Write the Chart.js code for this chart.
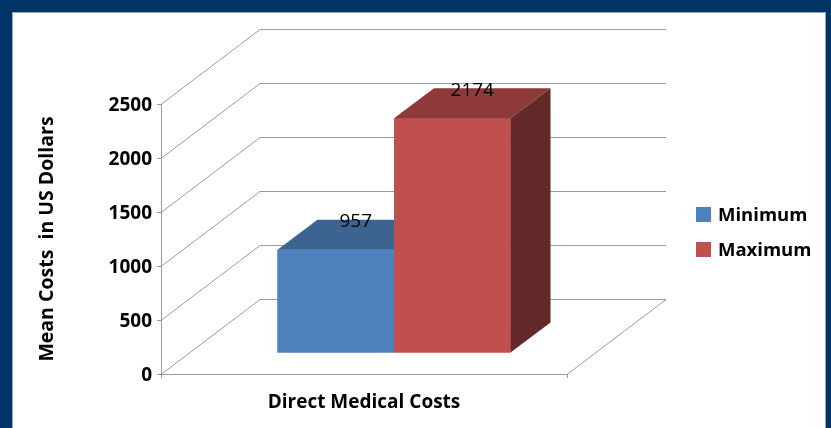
<!DOCTYPE html>
<html>
<head>
<meta charset="utf-8">
<script src="https://cdn.jsdelivr.net/npm/chart.js@4/dist/chart.umd.min.js"></script>
<style>
  body { margin: 0; }
  #frame { position: absolute; left: 0; top: 0; width: 831px; height: 428px; background: #003466; overflow: hidden; }
  #paper { position: absolute; left: 12px; top: 12px; width: 812px; height: 420px; background: #fff; border: 1px solid #9aa7b5; }
  #c { position: absolute; left: 0; top: 0; }
</style>
</head>
<body>
<div id="frame"><div id="paper"></div><canvas id="c" width="831" height="428"></canvas></div>
<script>
var categories = ["Direct Medical Costs"];
var seriesNames = ["Minimum", "Maximum"];
var minimumCosts = [957];
var maximumCosts = [2174];
var yTicks = [0, 500, 1000, 1500, 2000, 2500];

var frontColors = ["#4F81BD", "#C0504D"];
var topColors = ["#3D6391", "#8E3A38"];
var sideColors = ["#2F4D72", "#632928"];
var FONT = "'Open Sans'";

// depth of the back wall and of a bar, in pixels
var WALL_DX = 99, WALL_DY = -75;
var BAR_DX = 40, BAR_DY = -30;
var SHIFT_X = 30, SHIFT_Y = -21;

var walls = {
  id: 'walls',
  beforeDatasetsDraw: function(chart) {
    var ctx = chart.ctx, a = chart.chartArea, y = chart.scales.y;
    ctx.save();
    ctx.strokeStyle = '#9a9a9a';
    ctx.lineWidth = 1;
    ctx.beginPath();
    y.ticks.forEach(function(t) {
      var py = Math.round(y.getPixelForValue(t.value)) + 0.5;
      ctx.moveTo(a.left, py);
      ctx.lineTo(a.left + WALL_DX, py + WALL_DY);
      ctx.lineTo(a.right + WALL_DX, py + WALL_DY);
    });
    var p0 = Math.round(y.getPixelForValue(0)) + 0.5;
    ctx.moveTo(a.right, p0);
    ctx.lineTo(a.right + WALL_DX, p0 + WALL_DY);
    ctx.stroke();
    ctx.restore();
    ctx.save();
    ctx.translate(SHIFT_X, SHIFT_Y);
  },
  afterDatasetsDraw: function(chart) {
    var ctx = chart.ctx;
    // redraw the boxes left to right so the right bar hides the left one's side
    chart.data.datasets.forEach(function(ds, i) {
      chart.getDatasetMeta(i).data.forEach(function(bar, j) {
        var p = bar.getProps(['x', 'y', 'base', 'width'], true);
        var l = p.x - p.width / 2, r = p.x + p.width / 2;
        ctx.fillStyle = frontColors[i];
        ctx.fillRect(l, p.y, p.width, p.base - p.y);
        ctx.fillStyle = topColors[i];
        ctx.beginPath();
        ctx.moveTo(l, p.y); ctx.lineTo(r, p.y);
        ctx.lineTo(r + BAR_DX, p.y + BAR_DY); ctx.lineTo(l + BAR_DX, p.y + BAR_DY);
        ctx.closePath(); ctx.fill();
        ctx.fillStyle = sideColors[i];
        ctx.beginPath();
        ctx.moveTo(r, p.y); ctx.lineTo(r + BAR_DX, p.y + BAR_DY);
        ctx.lineTo(r + BAR_DX, p.base + BAR_DY); ctx.lineTo(r, p.base);
        ctx.closePath(); ctx.fill();
      });
    });
    chart.data.datasets.forEach(function(ds, i) {
      chart.getDatasetMeta(i).data.forEach(function(bar, j) {
        var p = bar.getProps(['x', 'y'], true);
        ctx.fillStyle = '#000';
        ctx.font = '19px ' + FONT;
        ctx.textAlign = 'center';
        ctx.textBaseline = 'middle';
        ctx.fillText(String(ds.data[j]), p.x + 20, p.y - 28);
      });
    });
    ctx.restore();
  },
  afterDraw: function(chart) {
    var ctx = chart.ctx;
    ctx.save();
    ctx.font = 'bold 18.5px ' + FONT;
    ctx.textBaseline = 'middle';
    ctx.textAlign = 'left';
    chart.data.datasets.forEach(function(ds, i) {
      var cy = 214.5 + i * 35;
      ctx.fillStyle = ds.backgroundColor;
      ctx.fillRect(696, cy - 7.5, 15, 15);
      ctx.fillStyle = '#000';
      ctx.fillText(ds.label, 718, cy + 1);
    });
    ctx.restore();
  }
};

new Chart(document.getElementById('c'), {
  type: 'bar',
  data: {
    labels: categories,
    datasets: [
      { label: seriesNames[0], data: minimumCosts, backgroundColor: frontColors[0], clip: false },
      { label: seriesNames[1], data: maximumCosts, backgroundColor: frontColors[1], clip: false }
    ]
  },
  options: {
    responsive: false,
    animation: false,
    layout: { padding: { left: 0, top: 104, right: 264, bottom: 0 } },
    datasets: { bar: { barPercentage: 1, categoryPercentage: 0.574 } },
    plugins: { legend: { display: false }, tooltip: { enabled: false } },
    scales: {
      x: {
        grid: { drawOnChartArea: false, tickLength: 4, color: '#9a9a9a' },
        border: { color: '#9a9a9a' },
        ticks: { color: '#000', font: { family: FONT, size: 19, weight: 'bold' }, padding: 13 },
        afterFit: function(s) { s.height = 54; }
      },
      y: {
        min: 0, max: 2500,
        afterBuildTicks: function(s) { s.ticks = yTicks.map(function(v) { return { value: v }; }); },
        grid: { drawOnChartArea: false, tickLength: 4, color: '#9a9a9a' },
        border: { color: '#9a9a9a' },
        ticks: {
          color: '#000', font: { family: FONT, size: 19, weight: 'bold' }, padding: 5, labelOffset: 2,
          callback: function(v) { return String(v); }
        },
        title: {
          display: true, text: 'Mean Costs  in US Dollars', color: '#000',
          font: { family: FONT, size: 19.5, weight: 'bold' }, padding: { top: 36 }
        },
        afterFit: function(s) { s.width = 161; }
      }
    }
  },
  plugins: [walls]
});
</script>
</body>
</html>
